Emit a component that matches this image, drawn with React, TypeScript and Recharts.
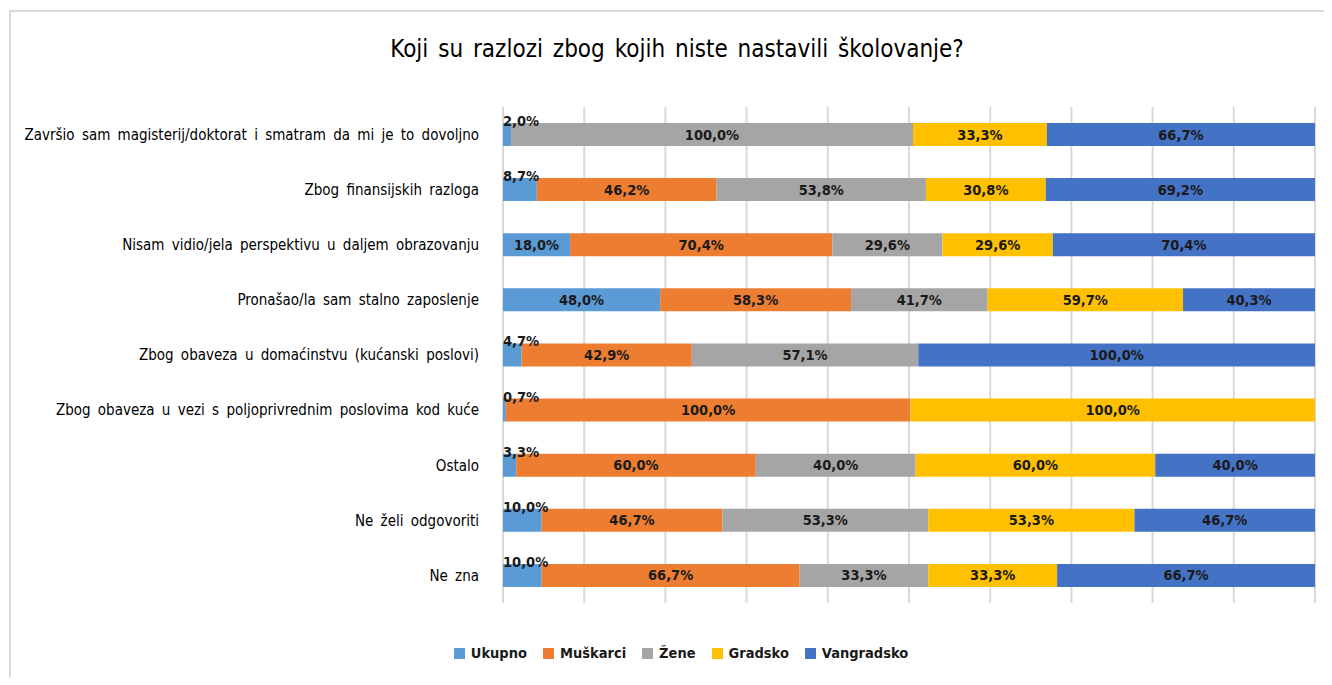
import React from "react";
import { Bar, BarChart, CartesianGrid, LabelList, XAxis, YAxis } from "recharts";

const categories = [
  "Završio sam magisterij/doktorat i smatram da mi je to dovoljno",
  "Zbog finansijskih razloga",
  "Nisam vidio/jela perspektivu u daljem obrazovanju",
  "Pronašao/la sam stalno zaposlenje",
  "Zbog obaveza u domaćinstvu (kućanski poslovi)",
  "Zbog obaveza u vezi s poljoprivrednim poslovima kod kuće",
  "Ostalo",
  "Ne želi odgovoriti",
  "Ne zna",
];

const ukupno = [2.0, 8.7, 18.0, 48.0, 4.7, 0.7, 3.3, 10.0, 10.0];
const muskarci = [0, 46.2, 70.4, 58.3, 42.9, 100.0, 60.0, 46.7, 66.7];
const zene = [100.0, 53.8, 29.6, 41.7, 57.1, 0, 40.0, 53.3, 33.3];
const gradsko = [33.3, 30.8, 29.6, 59.7, 0, 100.0, 60.0, 53.3, 33.3];
const vangradsko = [66.7, 69.2, 70.4, 40.3, 100.0, 0, 40.0, 46.7, 66.7];

const gridTicks = [0, 0.1, 0.2, 0.3, 0.4, 0.5, 0.6, 0.7, 0.8, 0.9, 1];

const series = [
  { key: "ukupno", name: "Ukupno", color: "#5B9BD5" },
  { key: "muskarci", name: "Muškarci", color: "#ED7D31" },
  { key: "zene", name: "Žene", color: "#A5A5A5" },
  { key: "gradsko", name: "Gradsko", color: "#FFC000" },
  { key: "vangradsko", name: "Vangradsko", color: "#4472C4" },
];

const data = categories.map((name, i) => ({
  name,
  ukupno: ukupno[i],
  muskarci: muskarci[i],
  zene: zene[i],
  gradsko: gradsko[i],
  vangradsko: vangradsko[i],
}));

const FONT = "'DejaVu Sans Condensed', 'Liberation Sans Narrow', sans-serif";

const fmt = (v: number) => v.toFixed(1).replace(".", ",") + "%";

// small Ukupno values sit above the bar start, everything else centred in its segment
function makeLabel(above: boolean) {
  return (props: any) => {
    const { x, y, width, height } = props;
    const v = Number(props.value);
    if (!v) return null;
    if (above && v < 15) {
      return (
        <text x={Number(x)} y={Number(y) + 3} fontSize={14.5} fontWeight="bold"
          fontFamily={FONT} fill="#1a1a1a" textAnchor="start">
          {fmt(v)}
        </text>
      );
    }
    return (
      <text x={Number(x) + Number(width) / 2} y={Number(y) + Number(height) / 2 + 5}
        fontSize={14.5} fontWeight="bold" fontFamily={FONT} fill="#1a1a1a" textAnchor="middle">
        {fmt(v)}
      </text>
    );
  };
}

function LegendBox() {
  return (
    <div style={{ position: "absolute", left: 0, width: 1332, top: 645, display: "flex", justifyContent: "center", gap: 16, fontFamily: FONT, fontSize: 14.5, fontWeight: "bold", color: "#1a1a1a", paddingLeft: 30, boxSizing: "border-box" }}>
      {series.map((s) => (
        <div key={s.key} style={{ display: "flex", alignItems: "center" }}>
          <span style={{ width: 11, height: 11, background: s.color, display: "inline-block", marginRight: 6 }} />
          {s.name}
        </div>
      ))}
    </div>
  );
}

export default function App() {
  return (
    <div style={{ position: "relative", width: 1332, height: 685, margin: -8, background: "#fff", overflow: "hidden" }}>
      <div style={{ position: "absolute", left: 9, top: 10, width: 1400, height: 800, borderLeft: "2px solid #d9d9d9", borderTop: "2px solid #d9d9d9" }} />
      <div style={{ position: "absolute", left: 0, width: 1332, top: 35, paddingLeft: 22, boxSizing: "border-box", textAlign: "center", fontFamily: FONT, fontSize: 24, color: "#000", wordSpacing: 3 }}>
        Koji su razlozi zbog kojih niste nastavili školovanje?
      </div>
      <div style={{ position: "absolute", left: 0, top: 0 }}>
        <BarChart width={1332} height={685} data={data} layout="vertical" stackOffset="expand"
          margin={{ top: 107, right: 17, bottom: 82, left: 8 }}>
          <CartesianGrid horizontal={false} stroke="#d9d9d9" strokeWidth={2} />
          <XAxis type="number" domain={[0, 1]} ticks={gridTicks} hide />
          <YAxis type="category" dataKey="name" width={495} axisLine={false} tickLine={false} tickMargin={18}
            tick={{ fontSize: 15, fill: "#000", fontFamily: FONT, wordSpacing: 3 } as any} interval={0} />
          {series.map((s) => (
            <Bar key={s.key} dataKey={s.key} name={s.name} stackId="a" fill={s.color} barSize={23} isAnimationActive={false}>
              <LabelList dataKey={s.key} content={makeLabel(s.key === "ukupno")} />
            </Bar>
          ))}
        </BarChart>
      </div>
      <LegendBox />
    </div>
  );
}
